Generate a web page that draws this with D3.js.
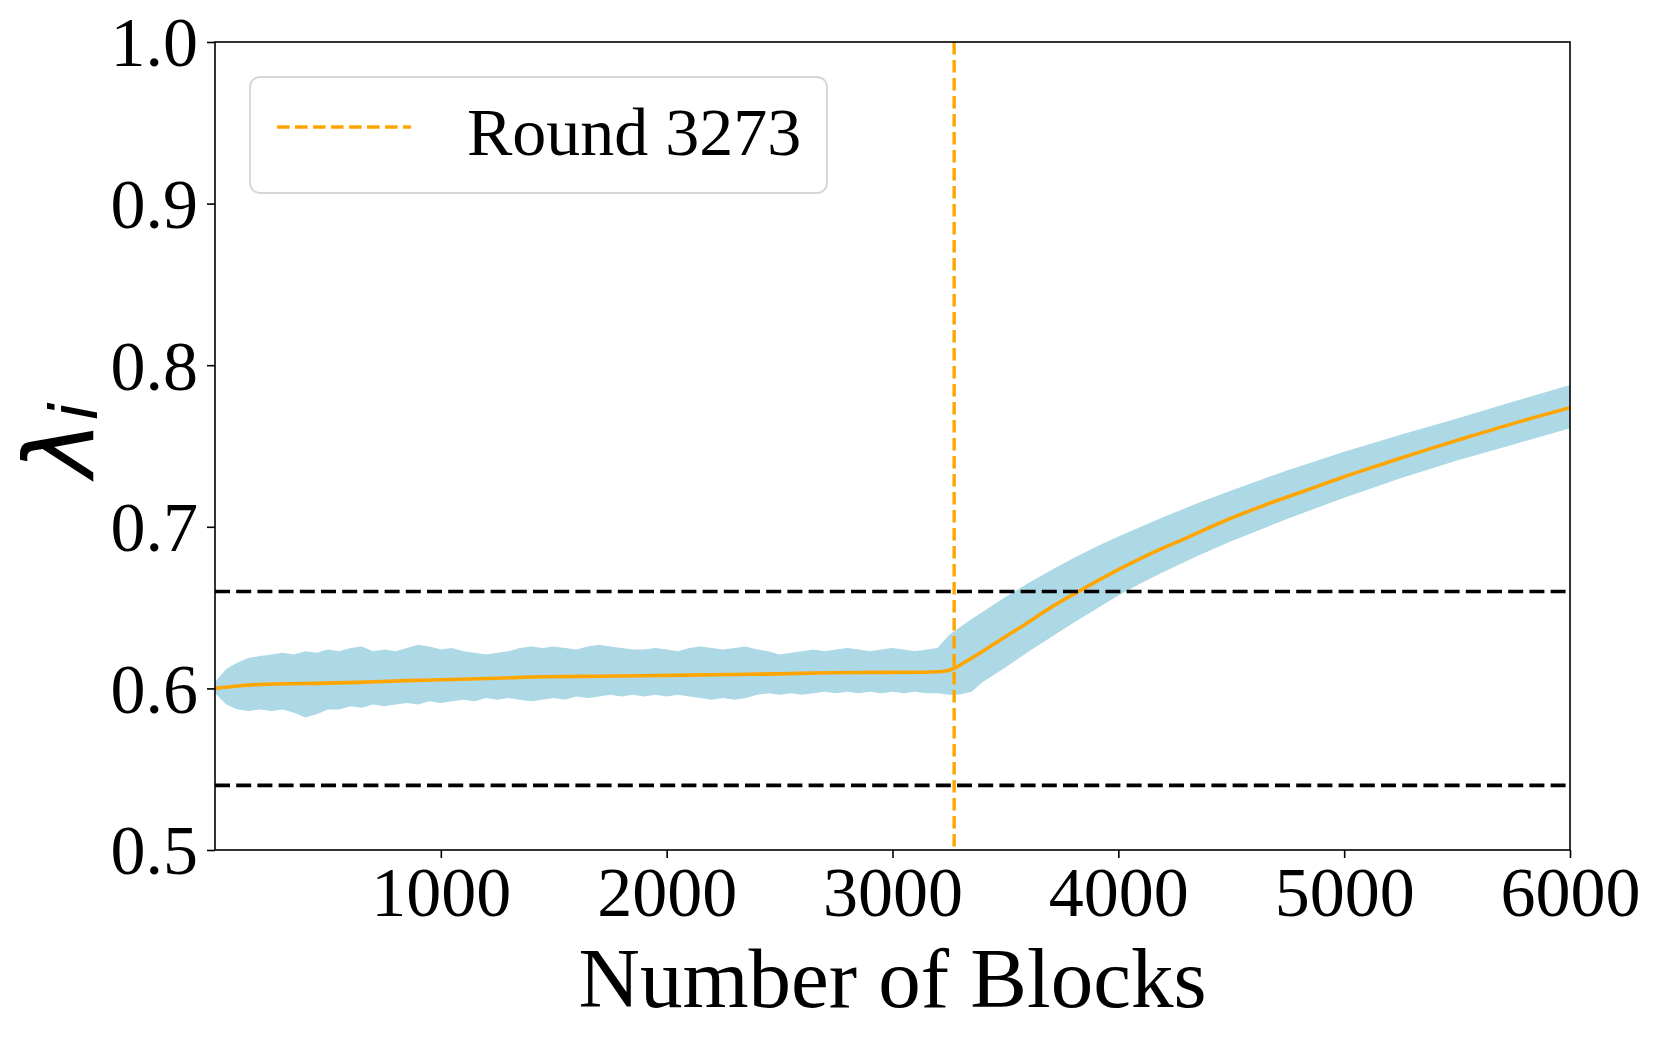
<!DOCTYPE html>
<html>
<head>
<meta charset="utf-8">
<script src="https://cdn.jsdelivr.net/npm/d3@7"></script>
<style>
  html, body { margin: 0; padding: 0; background: #fff; }
  svg { display: block; }
</style>
</head>
<body>
<svg id="chart" width="1660" height="1038"></svg>
<script>
// ---------- data ----------
var xTicks = [1000, 2000, 3000, 4000, 5000, 6000];
var yTicks = [0.5, 0.6, 0.7, 0.8, 0.9, 1.0];
var roundMark = 3273;
var bounds = [0.54, 0.66];

// band: shared block grid, noisy part every 50 blocks then the smooth tail
var bandBlocks = d3.range(0, 3201, 50).concat(
  [3250, 3300, 3350, 3400, 3500, 3600, 3700, 3800, 3900, 4000,
   4100, 4200, 4350, 4500, 4750, 5000, 5250, 5500, 5750, 6000]);

var bandUpper = [
  0.604, 0.612, 0.616, 0.619, 0.620, 0.621, 0.622, 0.621, 0.623, 0.622,
  0.624, 0.623, 0.625, 0.626, 0.623, 0.624, 0.623, 0.625, 0.627, 0.626,
  0.624, 0.625, 0.623, 0.622, 0.621, 0.622, 0.623, 0.625, 0.626, 0.625,
  0.626, 0.625, 0.624, 0.626, 0.627, 0.626, 0.625, 0.624, 0.624, 0.625,
  0.624, 0.623, 0.625, 0.626, 0.625, 0.624, 0.625, 0.626, 0.624, 0.623,
  0.621, 0.622, 0.623, 0.624, 0.623, 0.624, 0.625, 0.624, 0.623, 0.624,
  0.625, 0.624, 0.623, 0.624, 0.625,
  0.633, 0.638, 0.643, 0.6475, 0.6565, 0.665, 0.673, 0.6805, 0.6875, 0.694,
  0.700, 0.706, 0.7145, 0.7225, 0.735, 0.7465, 0.757, 0.767, 0.7775, 0.7878];

var bandLower = [
  0.597, 0.590, 0.587, 0.586, 0.587, 0.586, 0.587, 0.585, 0.582, 0.584,
  0.587, 0.587, 0.589, 0.588, 0.590, 0.589, 0.590, 0.591, 0.590, 0.592,
  0.591, 0.592, 0.593, 0.592, 0.594, 0.593, 0.594, 0.593, 0.592, 0.593,
  0.594, 0.593, 0.595, 0.594, 0.595, 0.596, 0.595, 0.596, 0.595, 0.596,
  0.595, 0.596, 0.595, 0.594, 0.593, 0.594, 0.593, 0.594, 0.596, 0.597,
  0.596, 0.597, 0.596, 0.597, 0.598, 0.597, 0.598, 0.597, 0.598, 0.597,
  0.598, 0.597, 0.598, 0.597, 0.597,
  0.596, 0.5963, 0.598, 0.604, 0.613, 0.6225, 0.6315, 0.6405, 0.649, 0.6575,
  0.665, 0.672, 0.682, 0.691, 0.705, 0.718, 0.730, 0.741, 0.751, 0.761];

var meanBlocks = [0, 100, 209, 400, 627, 850, 1046, 1250, 1462, 1700,
  1881, 2100, 2299, 2500, 2717, 2900, 3135, 3217, 3250, 3273,
  3324, 3400, 3500, 3569, 3700, 3824, 4000, 4130, 4300, 4480,
  4650, 4830, 5000, 5181, 5350, 5531, 5750, 6000];
var meanValues = [0.600, 0.6015, 0.6025, 0.603, 0.6037, 0.6048, 0.6055, 0.6063, 0.6072, 0.6075,
  0.6078, 0.6082, 0.6086, 0.609, 0.6097, 0.6099, 0.610, 0.6105, 0.6112, 0.6124,
  0.6165, 0.623, 0.632, 0.638, 0.650, 0.660, 0.6735, 0.6825, 0.693, 0.7042,
  0.7135, 0.7225, 0.731, 0.7393, 0.747, 0.7548, 0.764, 0.7737];

// ---------- layout ----------
var margin = {left: 215, right: 90, top: 42, bottom: 188};
var W = 1660, H = 1038;
var svg = d3.select("#chart");

var x = d3.scaleLinear().domain([0, 6000]).range([margin.left, W - margin.right]);
var y = d3.scaleLinear().domain([0.5, 1.0]).range([H - margin.bottom, margin.top]);

svg.append("rect").attr("width", W).attr("height", H).attr("fill", "#fff");

svg.append("clipPath").attr("id", "plotclip").append("rect")
  .attr("x", x(0)).attr("y", y(1.0))
  .attr("width", x(6000) - x(0)).attr("height", y(0.5) - y(1.0));

var plot = svg.append("g").attr("clip-path", "url(#plotclip)");

// band
var band = d3.area()
  .x(function(d, i) { return x(bandBlocks[i]); })
  .y0(function(d, i) { return y(bandLower[i]); })
  .y1(function(d, i) { return y(bandUpper[i]); });
plot.append("path").datum(bandBlocks)
  .attr("d", band)
  .attr("fill", "#add8e6");

// mean line
var meanLine = d3.line()
  .x(function(d, i) { return x(meanBlocks[i]); })
  .y(function(d, i) { return y(meanValues[i]); })
  .curve(d3.curveMonotoneX);
plot.append("path").datum(meanBlocks)
  .attr("d", meanLine)
  .attr("fill", "none")
  .attr("stroke", "#ffa500")
  .attr("stroke-width", 3.6);

// threshold lines
plot.selectAll(".bound").data(bounds).enter().append("line")
  .attr("x1", x(0)).attr("x2", x(6000))
  .attr("y1", function(d) { return y(d); })
  .attr("y2", function(d) { return y(d); })
  .attr("stroke", "#000")
  .attr("stroke-width", 3.6)
  .attr("stroke-dasharray", "15 6.2");

// round marker
plot.append("line")
  .attr("x1", x(roundMark)).attr("x2", x(roundMark))
  .attr("y1", y(1.0)).attr("y2", y(0.5))
  .attr("stroke", "#ffa500")
  .attr("stroke-width", 3.4)
  .attr("stroke-dasharray", "12.6 5.4");

// ---------- axes ----------
var font = "'Liberation Serif', 'Times New Roman', serif";

var xAxis = svg.append("g")
  .attr("transform", "translate(0," + y(0.5) + ")")
  .call(d3.axisBottom(x).tickValues(xTicks).tickSize(8).tickPadding(8).tickFormat(d3.format("d")));
var yAxis = svg.append("g")
  .attr("transform", "translate(" + x(0) + ",0)")
  .call(d3.axisLeft(y).tickValues(yTicks).tickSize(8).tickPadding(9).tickFormat(d3.format(".1f")));

[xAxis, yAxis].forEach(function(g) {
  g.select(".domain").remove();
  g.selectAll(".tick line").attr("stroke", "#000").attr("stroke-width", 1.6);
  g.selectAll(".tick text")
    .attr("fill", "#000")
    .style("font-family", font)
    .style("font-size", "70px");
});
yAxis.selectAll(".tick text").attr("dy", "0.34em");

// frame
svg.append("rect")
  .attr("x", x(0)).attr("y", y(1.0))
  .attr("width", x(6000) - x(0)).attr("height", y(0.5) - y(1.0))
  .attr("fill", "none").attr("stroke", "#000").attr("stroke-width", 1.6);

// axis titles
svg.append("text")
  .attr("x", (x(0) + x(6000)) / 2).attr("y", 1007)
  .attr("text-anchor", "middle")
  .style("font-family", font).style("font-size", "85px")
  .text("Number of Blocks");

var yl = svg.append("text")
  .attr("transform", "translate(93,440) rotate(-90)")
  .attr("text-anchor", "middle")
  .style("font-family", "'DejaVu Sans', sans-serif")
  .style("font-style", "italic")
  .style("font-size", "96px");
yl.append("tspan").text("λ");
yl.append("tspan").attr("dy", 4).style("font-size", "66px").text("i");

// ---------- legend ----------
var lg = svg.append("g");
lg.append("rect")
  .attr("x", 250).attr("y", 77).attr("width", 577).attr("height", 116)
  .attr("rx", 10).attr("ry", 10)
  .attr("fill", "#fff").attr("fill-opacity", 0.8)
  .attr("stroke", "#d6d6d6").attr("stroke-width", 1.8);
lg.append("line")
  .attr("x1", 277).attr("x2", 411).attr("y1", 127).attr("y2", 127)
  .attr("stroke", "#ffa500").attr("stroke-width", 3.4)
  .attr("stroke-dasharray", "12.6 5.4");
lg.append("text")
  .attr("x", 467).attr("y", 155)
  .style("font-family", font).style("font-size", "68px")
  .text("Round " + roundMark);
</script>
</body>
</html>
